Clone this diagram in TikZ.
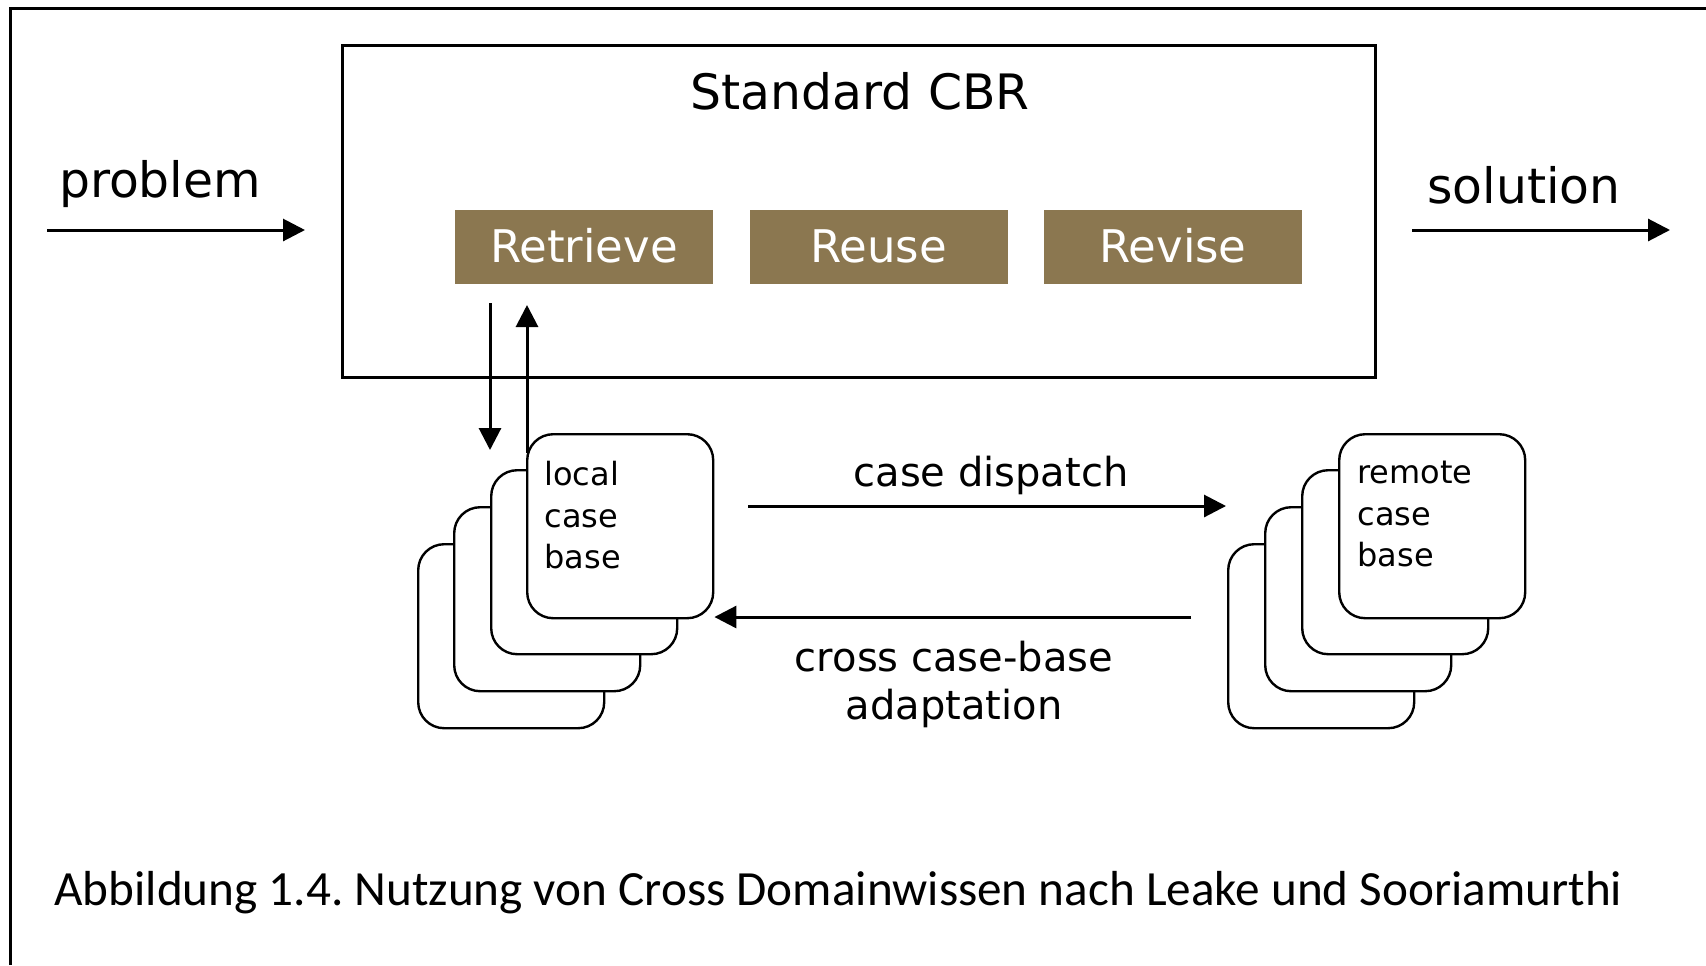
\documentclass[tikz,border=0pt]{standalone}
\usepackage{fontspec}
\setmainfont{DejaVu Sans}
\newfontfamily\capfont{Carlito}
\usetikzlibrary{arrows.meta,calc}

\definecolor{phase}{RGB}{139,119,80}
\frenchspacing

\begin{document}
\begin{tikzpicture}[x=0.5pt,y=-0.5pt,
  frame/.style={line width=1.5pt},
  arr/.style={line width=1.5pt,-{Triangle[length=11pt,width=11pt]}},
  phasebox/.style={fill=phase,draw=none,text=white,minimum width=129pt,minimum height=37pt,inner sep=0pt,
    font=\fontsize{22.5}{26}\selectfont},
  card/.style={draw,line width=1.2pt,fill=white,rounded corners=13pt,
    minimum width=93pt,minimum height=92pt,anchor=north west,inner sep=0pt},
  cardtext/.style={anchor=north west,inner sep=0pt,align=left,
    font=\fontsize{16}{20.7}\selectfont},
  big/.style={font=\fontsize{24.4}{28}\selectfont,inner sep=0pt},
  mid/.style={font=\fontsize{20}{24}\selectfont,inner sep=0pt},
]
\useasboundingbox (0,0) rectangle (1706,965);

% outer frame (left and top edges)
\draw[frame] (10,965) -- (10,8) -- (1706,8);

% standard CBR cycle
\node[draw,frame,minimum width=516.5pt,minimum height=166pt,inner sep=0pt] (cbr) at (858.5,211) {};
\node[big,anchor=base] (cbrlabel) at (860,109) {Standard CBR};
\node[phasebox] (retrieve) at (584,247) {};
\node[phasebox] (reuse) at (878.5,247) {};
\node[phasebox] (revise) at (1173,247) {};
\node[phasebox,fill=none,anchor=base] (retrievetext) at (retrieve.center |- 0,262) {Retrieve};
\node[phasebox,fill=none,anchor=base] (reusetext) at (reuse.center |- 0,262) {Reuse};
\node[phasebox,fill=none,anchor=base] (revisetext) at (revise.center |- 0,262) {Revise};

% problem / solution
\node[big,anchor=base] (problem) at (160,197) {problem};
\node[big,anchor=base] (solution) at (1524,203) {solution};
\coordinate (pin) at (47,230);
\coordinate (pout) at (305,230);
\coordinate (sin) at (1412,230);
\coordinate (sout) at (1670,230);
\draw[arr] (pin) -- (pout);
\draw[arr] (sin) -- (sout);

% local case base stack
\node[card] (lc4) at (417,543) {};
\node[card] (lc3) at (453,506) {};
\node[card] (lc2) at (490,469) {};
\node[card] (lc1) at (526,433) {};
\node[cardtext] (lctext) at (544,461) {local\\case\\base};

% remote case base stack
\node[card] (rc4) at (1227,543) {};
\node[card] (rc3) at (1264,506) {};
\node[card] (rc2) at (1301,469) {};
\node[card] (rc1) at (1338,433) {};
\node[cardtext] (rctext) at (1357,461) {remote\\case\\base};

% retrieval links
\coordinate (downS) at (490,303);
\coordinate (downE) at (490,450);
\coordinate (upS) at (527,453);
\coordinate (upE) at (527,305);
\draw[arr] (downS) -- (downE);
\draw[arr] (upS) -- (upE);

% dispatch and adaptation
\coordinate (dispS) at (748,506);
\coordinate (dispE) at (1226,506);
\draw[arr] (dispS) -- (dispE);
\node[mid,anchor=base] (displabel) at (991,486) {case dispatch};

\coordinate (adS) at (1191,617);
\draw[arr] (adS) -- (adS -| lc1.east);
\node[mid,anchor=base] (adlabel1) at (954,671) {cross case-base};
\node[mid,anchor=base] (adlabel2) at (954,719) {adaptation};

% caption
\node[anchor=base west,inner sep=0pt,font=\capfont\fontsize{24.6}{28}\selectfont] (caption) at (54,905)
  {Abbildung 1.4. Nutzung von Cross Domainwissen nach Leake und Sooriamurthi};
\end{tikzpicture}
\end{document}
